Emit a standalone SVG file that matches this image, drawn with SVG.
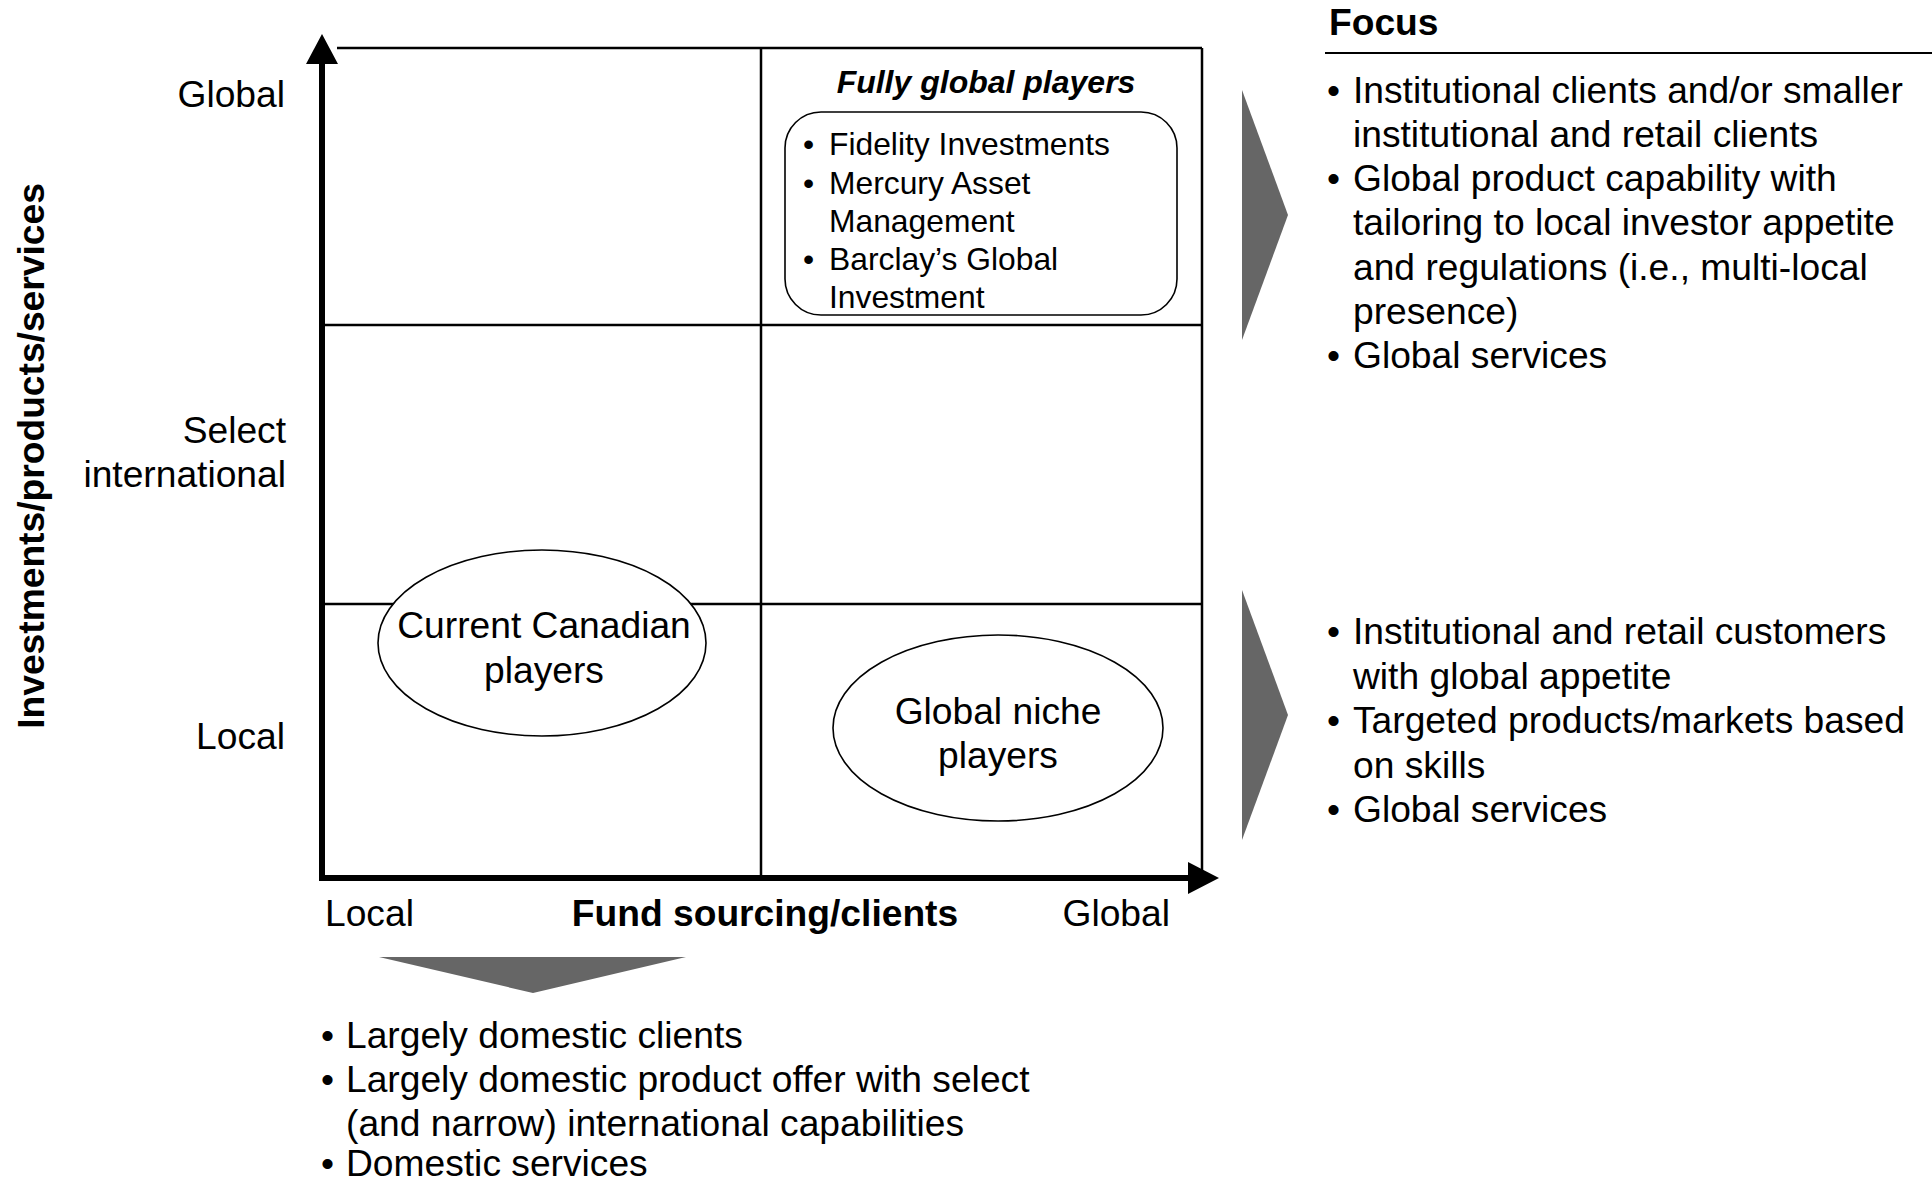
<svg xmlns="http://www.w3.org/2000/svg" width="1932" height="1183" viewBox="0 0 1932 1183">
<style>
  .t { font-family: "Liberation Sans", Arial, sans-serif; font-size: 37.2px; fill: #000; }
  .b { font-weight: bold; }
  .s { font-size: 31.8px; }
  .bi { font-weight: bold; font-style: italic; font-size: 32px; }
  .grid { stroke: #000; stroke-width: 2.5; fill: none; }
  .axis { stroke: #000; stroke-width: 6; fill: none; }
  .head { fill: #000; }
  .shape { fill: #fff; stroke: #000; stroke-width: 1.6; }
  .chev { fill: #666; }
  .e { text-anchor: end; }
  .m { text-anchor: middle; }
</style>
<rect x="0" y="0" width="1932" height="1183" fill="#fff"/>

<g id="grid">
  <line class="grid" x1="337" y1="48" x2="1202" y2="48"/>
  <line class="grid" x1="1202" y1="48" x2="1202" y2="872"/>
  <line class="grid" x1="761" y1="48" x2="761" y2="878"/>
  <line class="grid" x1="322" y1="325" x2="1202" y2="325"/>
  <line class="grid" x1="322" y1="604" x2="1202" y2="604"/>
</g>

<g id="connectors">
  <line class="axis" x1="322" y1="881" x2="322" y2="58"/>
  <polygon class="head" points="322,34 306,64 338,64"/>
  <line class="axis" x1="319" y1="878" x2="1192" y2="878"/>
  <polygon class="head" points="1219,878 1188,862 1188,894"/>
  <polygon class="chev" points="1242,90 1288,215 1242,340"/>
  <polygon class="chev" points="1242,590 1288,715 1242,840"/>
  <polygon class="chev" points="379,957 686,957 533,993"/>
</g>

<g id="axis-labels">
  <text class="t b m" transform="translate(44,456) rotate(-90)">Investments/products/services</text>
  <text class="t e" x="285" y="107">Global</text>
  <text class="t e" x="286" y="443">Select</text>
  <text class="t e" x="286" y="487">international</text>
  <text class="t e" x="285" y="749">Local</text>
  <text class="t" x="325" y="926">Local</text>
  <text class="t b m" x="765" y="926">Fund sourcing/clients</text>
  <text class="t e" x="1170" y="926">Global</text>
</g>

<g id="fully-global-players">
  <text class="t bi m" x="986" y="93">Fully global players</text>
  <rect class="shape" x="785" y="112" width="392" height="203" rx="36" ry="36"/>
  <text class="t s"><tspan x="803" y="155">•</tspan><tspan x="829" y="155">Fidelity Investments</tspan></text>
  <text class="t s"><tspan x="803" y="194">•</tspan><tspan x="829" y="194">Mercury Asset</tspan></text>
  <text class="t s" x="829" y="232">Management</text>
  <text class="t s"><tspan x="803" y="270">•</tspan><tspan x="829" y="270">Barclay’s Global</tspan></text>
  <text class="t s" x="829" y="308">Investment</text>
</g>

<g id="current-canadian-players">
  <ellipse class="shape" cx="542" cy="643" rx="164" ry="93"/>
  <text class="t m" x="544" y="638">Current Canadian</text>
  <text class="t m" x="544" y="683">players</text>
</g>

<g id="global-niche-players">
  <ellipse class="shape" cx="998" cy="728" rx="165" ry="93"/>
  <text class="t m" x="998" y="724">Global niche</text>
  <text class="t m" x="998" y="768">players</text>
</g>

<g id="focus">
  <text class="t b" x="1329" y="35">Focus</text>
  <line x1="1325" y1="53" x2="1932" y2="53" stroke="#000" stroke-width="2"/>
</g>

<g id="focus-global">
  <text class="t"><tspan x="1327" y="103">•</tspan><tspan x="1353" y="103">Institutional clients and/or smaller</tspan></text>
  <text class="t" x="1353" y="147">institutional and retail clients</text>
  <text class="t"><tspan x="1327" y="191">•</tspan><tspan x="1353" y="191">Global product capability with</tspan></text>
  <text class="t" x="1353" y="235">tailoring to local investor appetite</text>
  <text class="t" x="1353" y="280">and regulations (i.e., multi-local</text>
  <text class="t" x="1353" y="324">presence)</text>
  <text class="t"><tspan x="1327" y="368">•</tspan><tspan x="1353" y="368">Global services</tspan></text>
</g>

<g id="focus-niche">
  <text class="t"><tspan x="1327" y="644">•</tspan><tspan x="1353" y="644">Institutional and retail customers</tspan></text>
  <text class="t" x="1353" y="689">with global appetite</text>
  <text class="t"><tspan x="1327" y="733">•</tspan><tspan x="1353" y="733">Targeted products/markets based</tspan></text>
  <text class="t" x="1353" y="778">on skills</text>
  <text class="t"><tspan x="1327" y="822">•</tspan><tspan x="1353" y="822">Global services</tspan></text>
</g>

<g id="focus-local">
  <text class="t"><tspan x="321" y="1048">•</tspan><tspan x="346" y="1048">Largely domestic clients</tspan></text>
  <text class="t"><tspan x="321" y="1092">•</tspan><tspan x="346" y="1092">Largely domestic product offer with select</tspan></text>
  <text class="t" x="346" y="1136">(and narrow) international capabilities</text>
  <text class="t"><tspan x="321" y="1176">•</tspan><tspan x="346" y="1176">Domestic services</tspan></text>
</g>
</svg>
